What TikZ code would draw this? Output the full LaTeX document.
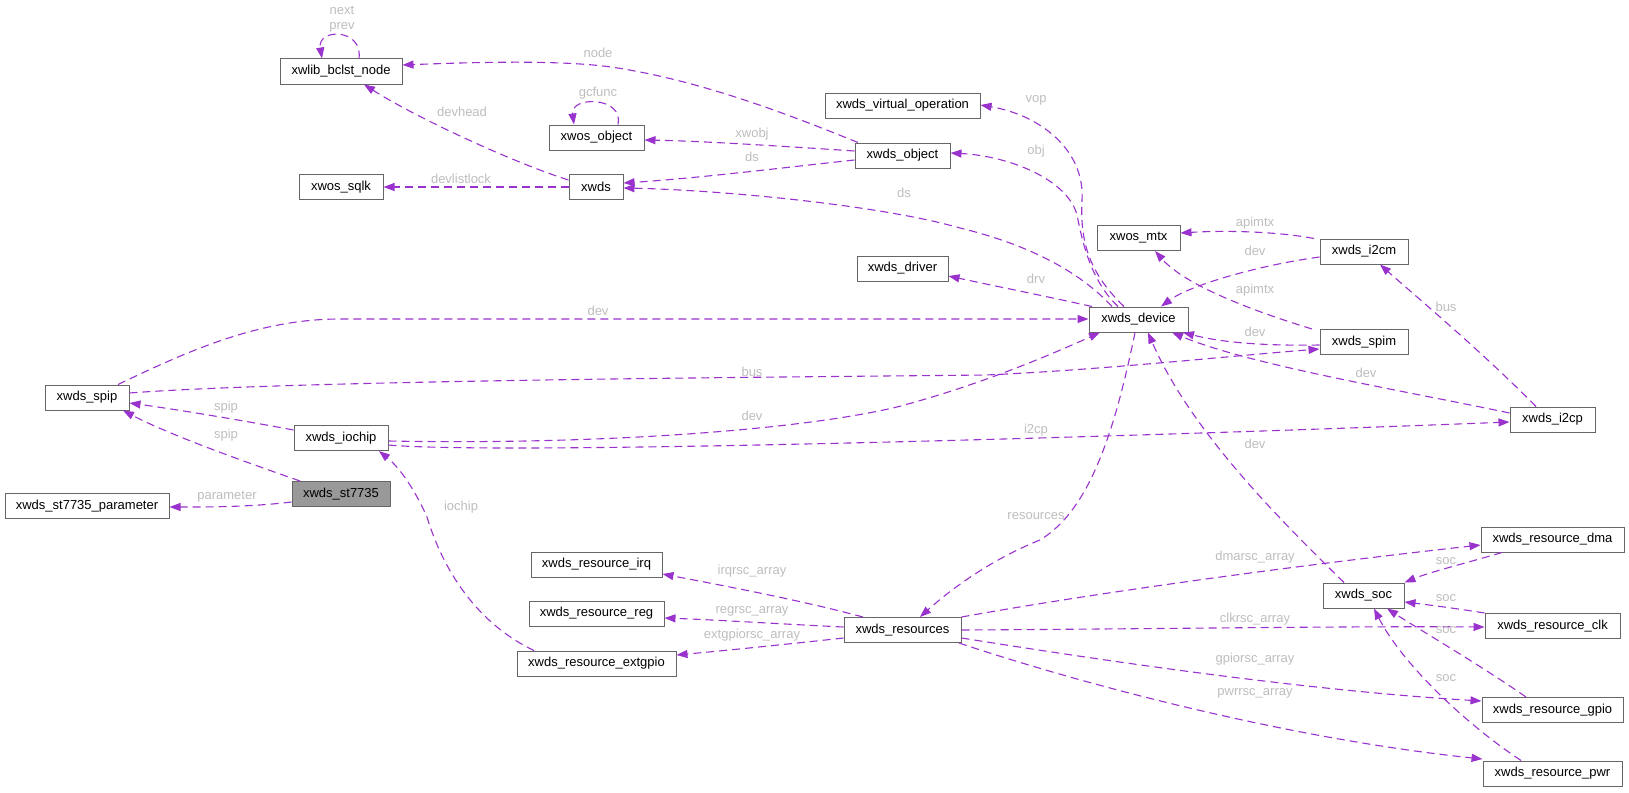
\documentclass[tikz,border=0pt]{standalone}
\usepackage{fontspec}
\setmainfont{Liberation Sans}
\usetikzlibrary{arrows.meta,calc}
\definecolor{edgec}{HTML}{9A32CD}
\definecolor{boxc}{HTML}{666666}
\definecolor{lblc}{HTML}{BEBEBE}
\definecolor{mainfill}{HTML}{999999}
\begin{document}
\begin{tikzpicture}[x=1pt,y=-1pt,
  every node/.style={font=\fontsize{13}{15}\selectfont},
  box/.style={draw=boxc, line width=1pt, fill=white, inner sep=0pt, minimum height=25pt},
  mainbox/.style={box, fill=mainfill},
  lbl/.style={text=lblc, inner sep=0pt, align=center},
  edge/.style={draw=edgec, line width=1.1pt, dash pattern=on 8pt off 5pt, -{Triangle[length=11pt,width=8pt]}}]
\useasboundingbox[fill=white] (0,0) rectangle (1629,792);
% nodes
\node[box,minimum width=122pt] (bn) at (341,71.5) {xwlib\_bclst\_node};
\node[box,minimum width=84pt] (sq) at (341,187) {xwos\_sqlk};
\node[box,minimum width=95pt] (wo) at (596.5,137.5) {xwos\_object};
\node[box,minimum width=54pt] (xw) at (596,187) {xwds};
\node[box,minimum width=155pt] (vo) at (902.5,105.5) {xwds\_virtual\_operation};
\node[box,minimum width=95pt] (xo) at (902.5,155.5) {xwds\_object};
\node[box,minimum width=91pt] (dr) at (902.5,268.5) {xwds\_driver};
\node[box,minimum width=83pt] (mt) at (1138.5,238) {xwos\_mtx};
\node[box,minimum width=88pt] (ic) at (1364,251.5) {xwds\_i2cm};
\node[box,minimum width=99pt] (dv) at (1138.5,319.5) {xwds\_device};
\node[box,minimum width=88pt] (sm) at (1364,342) {xwds\_spim};
\node[box,minimum width=85pt] (cp) at (1552.5,419.5) {xwds\_i2cp};
\node[box,minimum width=84pt] (sp) at (87,397.5) {xwds\_spip};
\node[box,minimum width=94pt] (io) at (341,438) {xwds\_iochip};
\node[mainbox,minimum width=98pt] (st) at (341,494) {xwds\_st7735};
\node[box,minimum width=164pt] (pa) at (87,506) {xwds\_st7735\_parameter};
\node[box,minimum width=131pt] (rq) at (596.5,564.5) {xwds\_resource\_irq};
\node[box,minimum width=135pt] (rg) at (596.5,613.5) {xwds\_resource\_reg};
\node[box,minimum width=159pt] (eg) at (596.5,663.5) {xwds\_resource\_extgpio};
\node[box,minimum width=117pt] (rs) at (902.5,630) {xwds\_resources};
\node[box,minimum width=143pt] (dm) at (1552.5,539.5) {xwds\_resource\_dma};
\node[box,minimum width=81pt] (so) at (1363.5,595.5) {xwds\_soc};
\node[box,minimum width=135pt] (ck) at (1552.5,626) {xwds\_resource\_clk};
\node[box,minimum width=141pt] (gp) at (1552.5,710) {xwds\_resource\_gpio};
\node[box,minimum width=139pt] (pw) at (1552.5,773.5) {xwds\_resource\_pwr};
% edges
\draw[edge] (359,0 |- bn.north) .. controls (363,28) and (317,28) .. (322,0 |- bn.north);
\draw[edge] (858,0 |- xo.north) .. controls (790,115) and (700,80) .. (611,67) .. controls (560,60) and (480,62) .. (bn.east |- 0,65);
\draw[edge] (xw.west |- 0,180) .. controls (520,165) and (420,120) .. (364,0 |- bn.south);
\draw[edge] (xw.west) -- (sq.east);
\draw[edge] (618,0 |- wo.north) .. controls (624,96) and (570,96) .. (574,0 |- wo.north);
\draw[edge] (xo.west |- 0,151) .. controls (780,146) and (700,141) .. (wo.east |- 0,140);
\draw[edge] (xo.west |- 0,160) .. controls (780,168) and (700,178) .. (xw.east |- 0,183);
\draw[edge] (1112,0 |- dv.north) .. controls (1080,272) and (1030,245) .. (960,228) .. controls (880,205) and (720,190) .. (xw.east |- 0,188);
\draw[edge] (1118,0 |- dv.north) .. controls (1090,280) and (1082,240) .. (1077,215) .. controls (1068,180) and (1010,156) .. (xo.east |- 0,153);
\draw[edge] (1124,0 |- dv.north) .. controls (1088,272) and (1080,240) .. (1082,200) .. controls (1085,150) and (1040,115) .. (vo.east |- 0,105);
\draw[edge] (1092,0 |- dv.north) .. controls (1040,295) and (990,285) .. (dr.east |- 0,276);
\draw[edge] (118,0 |- sp.north) .. controls (190,350) and (260,319) .. (340,319) -- (dv.west |- 0,319);
\draw[edge] (sp.east |- 0,393) .. controls (300,380) and (800,377) .. (986,375) .. controls (1100,370) and (1230,356) .. (sm.west |- 0,349);
\draw[edge] (sm.west |- 0,345) .. controls (1260,346) and (1220,342) .. (1183,0 |- dv.south);
\draw[edge] (cp.west |- 0,413) .. controls (1400,390) and (1250,365) .. (1172,0 |- dv.south);
\draw[edge] (1312,0 |- sm.north) .. controls (1250,310) and (1185,285) .. (1155,0 |- mt.south);
\draw[edge] (1314,0 |- ic.north) .. controls (1280,232) and (1230,230) .. (mt.east |- 0,233);
\draw[edge] (ic.west |- 0,257) .. controls (1260,265) and (1190,285) .. (1161,0 |- dv.north);
\draw[edge] (1536,0 |- cp.north) .. controls (1480,350) and (1420,300) .. (1380,0 |- ic.south);
\draw[edge] (io.east |- 0,445) .. controls (500,455) and (1100,438) .. (cp.west |- 0,422);
\draw[edge] (io.east |- 0,441) .. controls (600,445) and (800,430) .. (897,407) .. controls (980,385) and (1050,355) .. (1100,0 |- dv.south);
\draw[edge] (io.west |- 0,430) .. controls (240,420) and (180,410) .. (sp.east |- 0,403);
\draw[edge] (300,0 |- st.north) .. controls (240,460) and (170,435) .. (123,0 |- sp.south);
\draw[edge] (st.west |- 0,502) .. controls (250,507) and (210,507) .. (pa.east |- 0,507);
\draw[edge] (1135,0 |- dv.south) .. controls (1115,430) and (1090,510) .. (1040,540) .. controls (990,560) and (950,590) .. (920,0 |- rs.north);
\draw[edge] (534,0 |- eg.north) .. controls (470,620) and (440,560) .. (427,517) .. controls (415,490) and (400,468) .. (379,0 |- io.south);
\draw[edge] (1344,0 |- so.north) .. controls (1280,520) and (1190,430) .. (1148,0 |- dv.south);
\draw[edge] (863,0 |- rs.north) .. controls (800,600) and (720,585) .. (rq.east |- 0,574);
\draw[edge] (rs.west |- 0,627) .. controls (780,624) and (720,620) .. (rg.east |- 0,618);
\draw[edge] (rs.west |- 0,638) .. controls (780,645) and (720,651) .. (eg.east |- 0,655);
\draw[edge] (rs.north east) .. controls (1100,592) and (1300,565) .. (dm.west |- 0,545);
\draw[edge] (rs.east |- 0,630) .. controls (1150,629) and (1350,626) .. (ck.west |- 0,627);
\draw[edge] (rs.east |- 0,638) .. controls (1100,660) and (1300,690) .. (gp.west |- 0,701);
\draw[edge] (959,0 |- rs.south) .. controls (1100,690) and (1300,740) .. (pw.west |- 0,759);
\draw[edge] (1502,0 |- dm.south) .. controls (1470,562) and (1430,572) .. (so.north east);
\draw[edge] (ck.north west) .. controls (1460,609) and (1430,605) .. (so.east |- 0,602);
\draw[edge] (1526,0 |- gp.north) .. controls (1480,665) and (1420,630) .. (1387,0 |- so.south);
\draw[edge] (1521,0 |- pw.north) .. controls (1460,720) and (1400,660) .. (1374,0 |- so.south);
% labels
\node[lbl] (l1) at (342,19.5) {next\\prev};
\node[lbl] (l2) at (598,53) {node};
\node[lbl] (l3) at (462,112) {devhead};
\node[lbl] (l4) at (461,179) {devlistlock};
\node[lbl] (l5) at (598,93) {gcfunc};
\node[lbl] (l6) at (752,134) {xwobj};
\node[lbl] (l7) at (752,157) {ds};
\node[lbl] (l8) at (904,193) {ds};
\node[lbl] (l9) at (1036,100) {vop};
\node[lbl] (l10) at (1036,151) {obj};
\node[lbl] (l11) at (1036,279) {drv};
\node[lbl] (l12) at (598,311) {dev};
\node[lbl] (l13) at (752,372) {bus};
\node[lbl] (l14) at (752,416) {dev};
\node[lbl] (l15) at (1036,430) {i2cp};
\node[lbl] (l16) at (1036,516) {resources};
\node[lbl] (l17) at (1255,223) {apimtx};
\node[lbl] (l18) at (1255,251) {dev};
\node[lbl] (l19) at (1255,290) {apimtx};
\node[lbl] (l20) at (1446,307) {bus};
\node[lbl] (l21) at (1255,332) {dev};
\node[lbl] (l22) at (1366,373) {dev};
\node[lbl] (l23) at (1255,444) {dev};
\node[lbl] (l24) at (226,407) {spip};
\node[lbl] (l25) at (226,435) {spip};
\node[lbl] (l26) at (227,497) {parameter};
\node[lbl] (l27) at (461,507) {iochip};
\node[lbl] (l28) at (752,571) {irqrsc\_array};
\node[lbl] (l29) at (752,611) {regrsc\_array};
\node[lbl] (l30) at (752,635) {extgpiorsc\_array};
\node[lbl] (l31) at (1255,557) {dmarsc\_array};
\node[lbl] (l32) at (1446,561) {soc};
\node[lbl] (l33) at (1446,598) {soc};
\node[lbl] (l34) at (1255,619) {clkrsc\_array};
\node[lbl] (l35) at (1446,630) {soc};
\node[lbl] (l36) at (1255,659) {gpiorsc\_array};
\node[lbl] (l37) at (1446,678) {soc};
\node[lbl] (l38) at (1255,693) {pwrrsc\_array};
\end{tikzpicture}
\end{document}
